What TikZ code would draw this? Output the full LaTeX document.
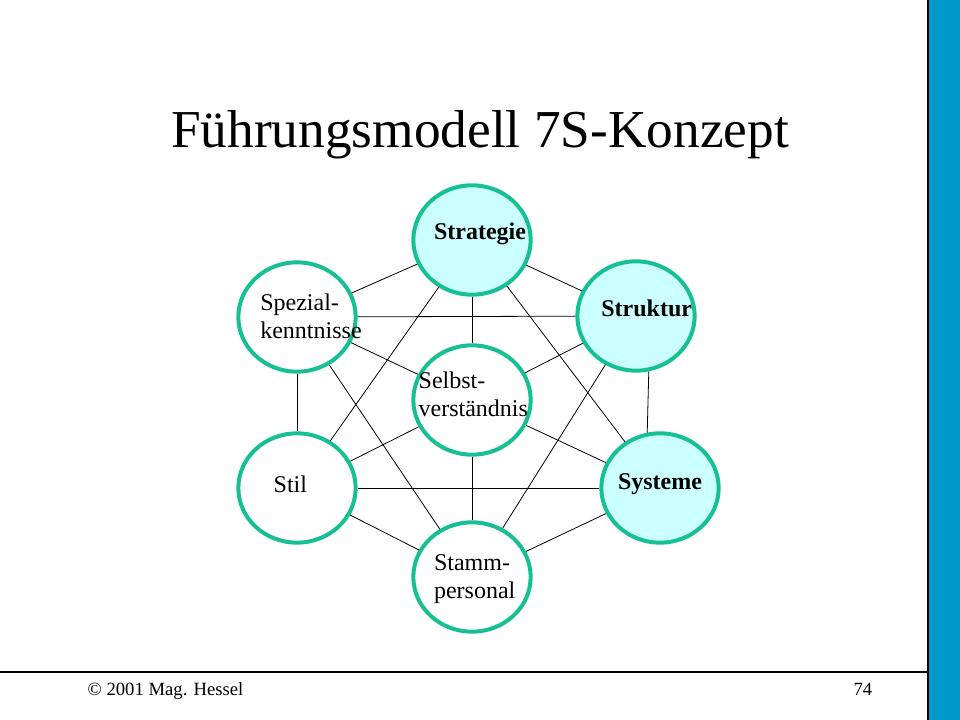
\documentclass[tikz,border=0pt]{standalone}
\usepackage{fontspec}
\setmainfont{Liberation Serif}
\usetikzlibrary{shapes.geometric}

\definecolor{ringgreen}{RGB}{22,192,148}
\definecolor{lightcyan}{RGB}{204,255,255}
\definecolor{barblue}{RGB}{0,153,204}

\begin{document}
\begin{tikzpicture}[
    x=0.75pt, y=-0.75pt,
    % Define styles for the slide
    ring/.style={ellipse, draw=ringgreen, line width=3pt, fill=white, minimum width=88pt, minimum height=82pt, inner sep=0pt},
    keyring/.style={ring, fill=lightcyan},
    ringtext/.style={align=left, inner sep=0pt, font=\fontsize{18}{21}\selectfont},
    keytext/.style={ringtext, font=\fontsize{18}{21}\selectfont\bfseries},
    conn/.style={black, line width=0.6pt},
    slide_title/.style={font=\fontsize{40}{48}\selectfont, anchor=base},
    footer/.style={font=\fontsize{14}{17}\selectfont, anchor=base}
]
    \useasboundingbox (0,0) rectangle (960,720);

    % Right bar and footer line
    \fill[barblue] (928,0) rectangle (960,720);
    \draw[line width=0.8pt] (928,0) -- (928,720);
    \draw[line width=1pt] (0,672) -- (928,672);

    % Title
    \node[slide_title] (title) at (480,148) {Führungsmodell 7S-Konzept};

    % Footer
    \node[footer, anchor=base west] (copy) at (83,695) {© 2001 Mag. Hessel};
    \node[footer, anchor=base east] (page) at (877,695) {74};

    % The seven S
    \node[keyring, label={[keytext, xshift=6pt, yshift=5pt]center:Strategie}] (strat) at (472,240) {};
    \node[keyring, label={[keytext, xshift=8pt, yshift=6pt]center:Struktur}] (strukt) at (636,316) {};
    \node[ring, label={[ringtext, xshift=10.5pt, yshift=0.5pt]center:{Spezial-\\kenntnisse}}] (spez) at (297,317) {};
    \node[ring, label={[ringtext, xshift=1pt, yshift=4pt]center:{Selbst-\\verständnis}}] (selbst) at (472,400) {};
    \node[ring, label={[ringtext, xshift=-5pt, yshift=3pt]center:Stil}] (stil) at (297,488) {};
    \node[keyring, label={[keytext, yshift=3pt]center:Systeme}] (syst) at (660,488) {};
    \node[ring, label={[ringtext, xshift=2pt, yshift=-1.5pt]center:{Stamm-\\personal}}] (stamm) at (472,577) {};

    % Links between the circles
    \foreach \a/\b in {strat/spez, strat/strukt, strat/selbst, strat/stil, strat/syst,
                       spez/strukt, spez/selbst, spez/stil, spez/stamm,
                       strukt/selbst, strukt/stamm, strukt.-77/syst.103,
                       selbst/stil, selbst/syst, selbst/stamm,
                       stil/syst, stil/stamm, syst/stamm}
        \draw[conn] (\a) -- (\b);

\end{tikzpicture}
\end{document}
